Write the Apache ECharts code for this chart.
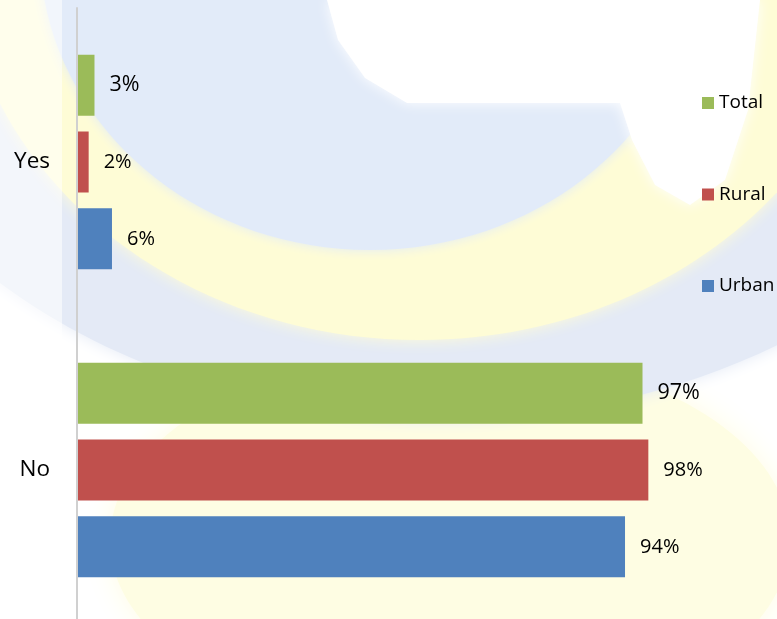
<!DOCTYPE html>
<html>
<head>
<meta charset="utf-8">
<script src="https://cdn.jsdelivr.net/npm/echarts@6/dist/echarts.min.js"></script>
<style>html,body{margin:0;padding:0;background:#fff}#c{width:777px;height:619px}</style>
</head>
<body>
<div id="c"></div>
<script>
const categories = ['Yes', 'No'];
const seriesNames = ['Total', 'Rural', 'Urban'];
const totalValues = [3, 97];
const ruralValues = [2, 98];
const urbanValues = [6, 94];
const colors = ['#9bbb59', '#c0504d', '#4f81bd'];
const FONT = 'Open Sans';

const chart = echarts.init(document.getElementById('c'));
const valuesList = [totalValues, ruralValues, urbanValues];
const labelSizes = [21.5, 20, 20];

function soft(fill, blur) {
  return { fill: fill, shadowBlur: blur, shadowColor: fill };
}

chart.setOption({
  animation: false,
  backgroundColor: '#ffffff',
  graphic: [
    { type: 'ellipse', z: -10, shape: { cx: 450, cy: 540, rx: 340, ry: 190 }, style: soft('#fefde3', 30), silent: true },
    { type: 'ellipse', z: -9, shape: { cx: 440, cy: -80, rx: 640, ry: 500 }, style: soft('#e4eaf6', 16), silent: true },
    { type: 'ellipse', z: -8, shape: { cx: 420, cy: -60, rx: 460, ry: 400 }, style: soft('#fefcd6', 16), silent: true },
    { type: 'ellipse', z: -7, shape: { cx: 370, cy: -50, rx: 330, ry: 300 }, style: soft('#e2ebf9', 12), silent: true },
    { type: 'polygon', z: -6, shape: { points: [[327,0],[338,40],[365,78],[407,103],[620,103],[632,140],[655,185],[690,205],[725,180],[748,110],[760,0]] }, style: soft('#ffffff', 14), silent: true },
    { type: 'rect', z: -5, shape: { x: 0, y: 0, width: 62, height: 619 }, style: { fill: '#ffffff', opacity: 0.55 }, silent: true }
  ],
  legend: {
    orient: 'vertical',
    left: 702,
    top: 93,
    padding: 0,
    itemWidth: 12,
    itemHeight: 12,
    itemGap: 71.5,
    icon: 'rect',
    data: seriesNames,
    textStyle: { fontFamily: FONT, fontSize: 19, color: '#000', lineHeight: 20 }
  },
  grid: { left: 77, top: 8, width: 583, height: 616, outerBoundsMode: 'none', containLabel: false },
  xAxis: {
    type: 'value', min: 0, max: 100, show: false
  },
  yAxis: {
    type: 'category',
    data: categories,
    inverse: true,
    z: 5,
    axisLine: { show: true, lineStyle: { color: '#d0d0d0', width: 2 } },
    axisTick: { show: false },
    axisLabel: { fontFamily: FONT, fontSize: 22.5, color: '#000', margin: 27 },
    splitLine: { show: false }
  },
  series: seriesNames.map((name, i) => ({
    name: name,
    type: 'bar',
    data: valuesList[i],
    barWidth: 61,
    barGap: '26%',
    itemStyle: { color: colors[i] },
    label: {
      show: true,
      position: 'right',
      distance: 15,
      formatter: '{c}%',
      fontFamily: FONT,
      fontSize: labelSizes[i],
      color: '#000'
    }
  }))
});
</script>
</body>
</html>
